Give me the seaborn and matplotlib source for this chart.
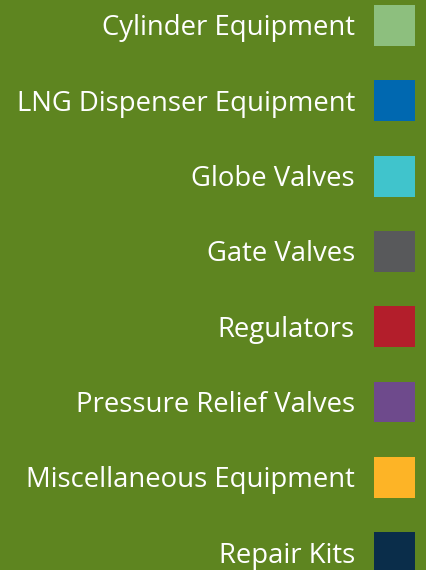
import matplotlib
matplotlib.use("Agg")
import matplotlib.pyplot as plt
import seaborn as sns
import pandas as pd

# legend entries, top to bottom
categories = [
    "Cylinder Equipment",
    "LNG Dispenser Equipment",
    "Globe Valves",
    "Gate Valves",
    "Regulators",
    "Pressure Relief Valves",
    "Miscellaneous Equipment",
    "Repair Kits",
]
colors = ["#8dbf7e", "#0068b0", "#40c4cc", "#58595b",
          "#b31e2b", "#6e4a8c", "#fdb426", "#0a2d4a"]

bg = "#5e8520"

sns.set_theme(style="white")
plt.rcParams["font.family"] = ["Open Sans", "DejaVu Sans"]

df = pd.DataFrame({"x": [0] * len(categories), "y": list(range(len(categories))),
                   "cat": categories})

fig = plt.figure(figsize=(4.27, 5.70), dpi=100, facecolor=bg)
ax = fig.add_axes([0, 0, 1, 1])
ax.set_facecolor(bg)

sns.scatterplot(data=df, x="x", y="y", hue="cat", palette=colors,
                marker="s", s=870, linewidth=0, legend=False, ax=ax)

for i, label in enumerate(categories):
    ax.text(-39.5 / 75.3, i + 10 / 75.3, label, ha="right", va="baseline",
            color="white", fontsize=19.8)

# 1 unit = 75.3 px in both directions
ax.set_xlim(-394.5 / 75.3, 32.5 / 75.3)
ax.set_ylim(544.5 / 75.3, -25.5 / 75.3)
ax.set_axis_off()

fig.savefig("out.png", dpi=100, facecolor=bg)
